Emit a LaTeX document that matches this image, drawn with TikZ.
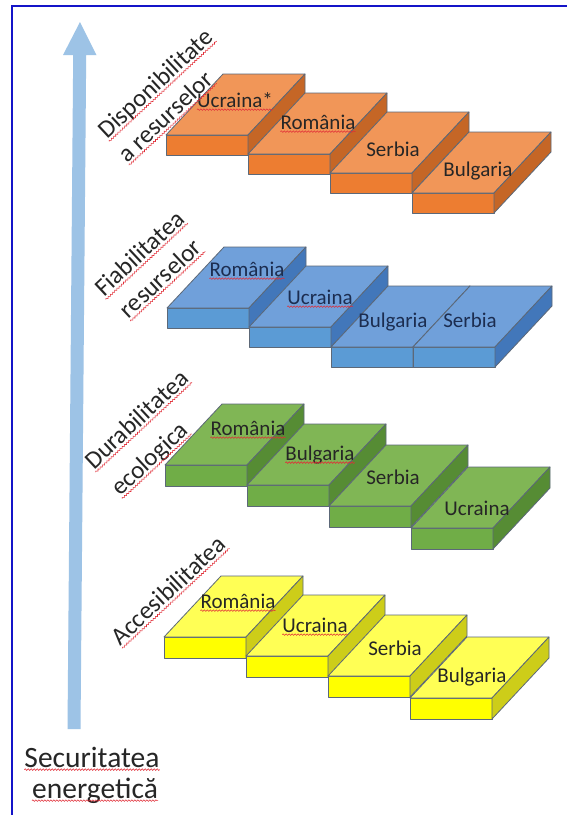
\documentclass[tikz,border=0pt]{standalone}
\usepackage{fontspec}
\setmainfont{Carlito}
\usetikzlibrary{calc,decorations.pathmorphing}
\definecolor{otop}{RGB}{241,150,88}
\definecolor{ofront}{RGB}{237,125,49}
\definecolor{oside}{RGB}{197,102,38}
\definecolor{btop}{RGB}{112,160,218}
\definecolor{bfront}{RGB}{91,155,213}
\definecolor{bside}{RGB}{66,119,186}
\definecolor{gtop}{RGB}{128,182,85}
\definecolor{gfront}{RGB}{112,173,71}
\definecolor{gside}{RGB}{86,140,52}
\definecolor{ytop}{RGB}{255,255,85}
\definecolor{yfront}{RGB}{255,255,0}
\definecolor{yside}{RGB}{205,205,25}
\definecolor{edgec}{RGB}{92,104,120}
\definecolor{arrowc}{RGB}{157,195,230}
\definecolor{framec}{RGB}{20,20,200}
\definecolor{squigc}{RGB}{225,45,55}
\definecolor{labc}{RGB}{38,38,38}
\definecolor{blabc}{RGB}{28,45,80}
\def\sw{82}
\def\ddx{57}
\def\ddy{-61}
% #1 x, #2 y, #3 height, #4 top, #5 front, #6 side
\newcommand{\slabbox}[6]{%
  \filldraw[slabedge, fill=#5] (#1,#2) rectangle ++(\sw,#3);
  \filldraw[slabedge, fill=#4] (#1,#2) -- ++(\sw,0) -- ++(\ddx,\ddy) -- ++(-\sw,0) -- cycle;
  \filldraw[slabedge, fill=#6] (#1+\sw,#2) -- ++(\ddx,\ddy) -- ++(0,#3) -- ++(-\ddx,-\ddy) -- cycle;
}
\newcommand{\squig}[1]{%
  \draw[squiggle] ($(#1.base west)!2.6pt!-90:(#1.base east)$) -- ($(#1.base east)!2.6pt!90:(#1.base west)$);
}
\tikzset{
  slabedge/.style={draw=edgec, line width=0.8pt, line join=round},
  squiggle/.style={draw=squigc, line width=0.55pt, decorate,
    decoration={snake, amplitude=0.8pt, segment length=3pt}},
  steplab/.style={inner sep=0pt, anchor=base, font=\fontsize{21}{25}\selectfont, text=labc},
  rotlab/.style={inner sep=0pt, anchor=center, rotate=43, font=\fontsize{25}{30}\selectfont, text=labc},
  baselab/.style={inner sep=0pt, anchor=base, font=\fontsize{29.5}{34}\selectfont, text=labc}
}
\begin{document}
\begin{tikzpicture}[x=1pt, y=-1pt]
\useasboundingbox (0,0) rectangle (567,815);
\fill[white] (0,0) rectangle (567,815);
% frame
\draw[framec, line width=2pt] (12,820) -- (12,6) -- (572,6);
% vertical arrow
\fill[arrowc] (67.5,729) -- (80.5,729) -- (86.2,55) -- (96.5,55) -- (80,22) -- (63,55) -- (73.2,55) -- cycle;
% orange
\slabbox{166}{135}{20}{otop}{ofront}{oside}
\slabbox{248}{154}{20}{otop}{ofront}{oside}
\slabbox{330}{173}{20}{otop}{ofront}{oside}
\slabbox{412}{193}{20}{otop}{ofront}{oside}
% blue
\slabbox{167}{308}{20}{btop}{bfront}{bside}
\slabbox{249}{327}{20}{btop}{bfront}{bside}
\slabbox{331}{347}{20}{btop}{bfront}{bside}
\slabbox{413}{347}{20}{btop}{bfront}{bside}
% green
\slabbox{165}{465}{21}{gtop}{gfront}{gside}
\slabbox{247}{485}{21}{gtop}{gfront}{gside}
\slabbox{329}{506}{21}{gtop}{gfront}{gside}
\slabbox{411}{528}{21}{gtop}{gfront}{gside}
% yellow
\slabbox{164}{637}{21}{ytop}{yfront}{yside}
\slabbox{246}{656}{21}{ytop}{yfront}{yside}
\slabbox{328}{676}{21}{ytop}{yfront}{yside}
\slabbox{410}{698}{21}{ytop}{yfront}{yside}
% orange labels
\node[steplab] (o1) at (235,107) {Ucraina*};
\node[steplab] (o2) at (318,129) {România};
\node[steplab] (o3) at (393,156) {Serbia};
\node[steplab] (o4) at (478,176) {Bulgaria};
% blue labels
\node[steplab, text=blabc] (b1) at (247,276) {România};
\node[steplab, text=blabc] (b2) at (320,304) {Ucraina};
\node[steplab, text=blabc] (b3) at (393,327) {Bulgaria};
\node[steplab, text=blabc] (b4) at (470,327) {Serbia};
% green labels
\node[steplab] (g1) at (248,435) {România};
\node[steplab] (g2) at (320,460) {Bulgaria};
\node[steplab] (g3) at (393,484) {Serbia};
\node[steplab] (g4) at (477,515) {Ucraina};
% yellow labels
\node[steplab] (y1) at (238,608) {România};
\node[steplab] (y2) at (315,632) {Ucraina};
\node[steplab] (y3) at (395,655) {Serbia};
\node[steplab] (y4) at (472,682) {Bulgaria};
% rotated category labels
\node[rotlab] (r1a) at (157,85) {\strut Disponibilitate};
\node[rotlab] (r1b) at (167,118) {\strut a resurselor};
\node[rotlab] (r2a) at (141,255) {\strut Fiabilitatea};
\node[rotlab] (r2b) at (162,280) {\strut resurselor};
\node[rotlab] (r3a) at (138,421) {\strut Durabilitatea};
\node[rotlab] (r3b) at (151,460) {\strut ecologica};
\node[rotlab] (r4a) at (170,592) {\strut Accesibilitatea};
% bottom label
\node[baselab] (s1) at (92,767) {Securitatea};
\node[baselab] (s2) at (95,798) {energetică};
% spell-check squiggles
\squig{o1}\squig{o2}
\squig{b1}\squig{b2}
\squig{g1}\squig{g2}
\squig{y1}\squig{y2}
\squig{r1a}\squig{r1b}\squig{r2a}\squig{r2b}\squig{r3a}\squig{r3b}\squig{r4a}
\squig{s1}\squig{s2}
\end{tikzpicture}
\end{document}
